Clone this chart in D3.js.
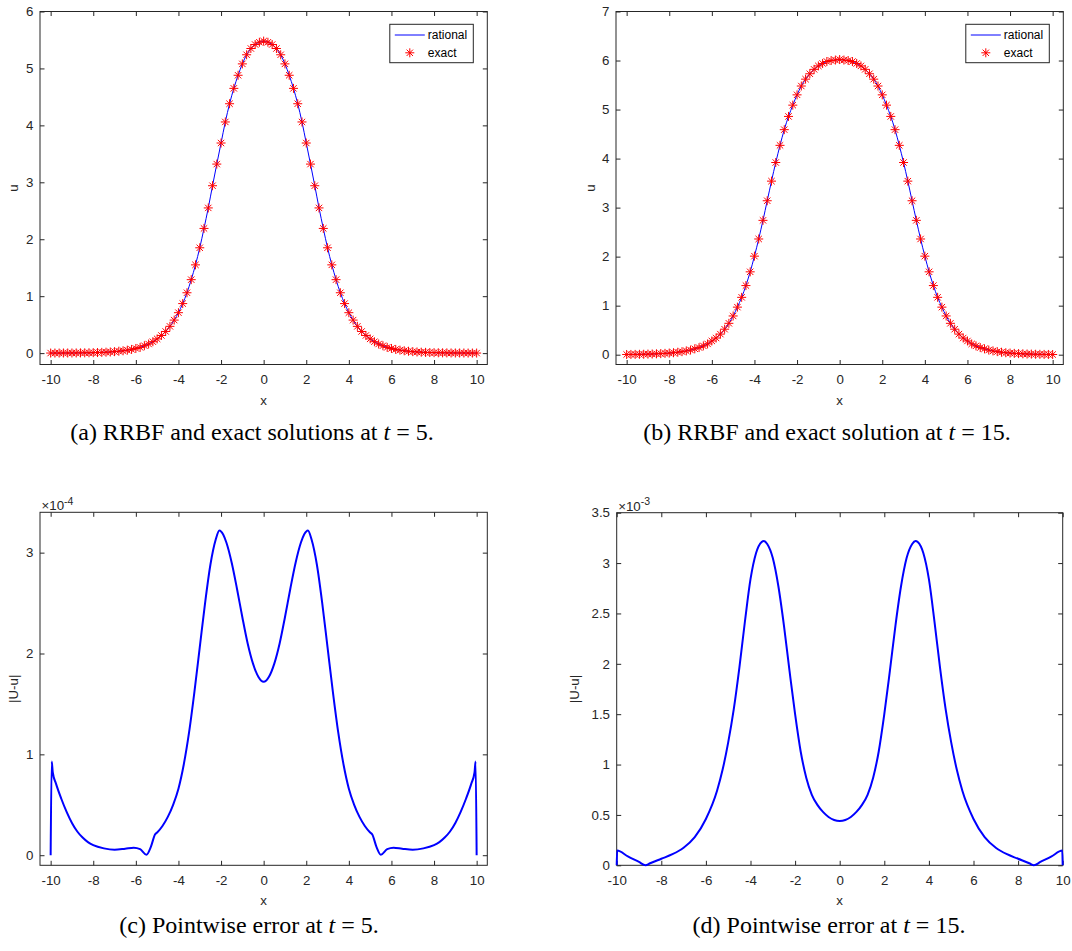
<!DOCTYPE html>
<html><head><meta charset="utf-8">
<script src="https://cdn.jsdelivr.net/npm/d3@7"></script>
<style>body{margin:0;background:#fff}</style>
</head><body><svg id="c" width="1072" height="951"></svg>
<script>
// ---------------- data ----------------
const xGrid = [-10,-9.8,-9.6,-9.4,-9.2,-9,-8.8,-8.6,-8.4,-8.2,-8,-7.8,-7.6,-7.4,-7.2,-7,-6.8,-6.6,-6.4,-6.2,
  -6,-5.8,-5.6,-5.4,-5.2,-5,-4.8,-4.6,-4.4,-4.2,-4,-3.8,-3.6,-3.4,-3.2,-3,-2.8,-2.6,-2.4,-2.2,
  -2,-1.8,-1.6,-1.4,-1.2,-1,-0.8,-0.6,-0.4,-0.2,0,0.2,0.4,0.6,0.8,1,1.2,1.4,1.6,1.8,
  2,2.2,2.4,2.6,2.8,3,3.2,3.4,3.6,3.8,4,4.2,4.4,4.6,4.8,5,5.2,5.4,5.6,5.8,
  6,6.2,6.4,6.6,6.8,7,7.2,7.4,7.6,7.8,8,8.2,8.4,8.6,8.8,9,9.2,9.4,9.6,9.8,10];

const uExactT5 = [0.001,0.001,0.001,0.002,0.002,0.002,0.003,0.004,0.005,0.006,0.008,0.010,0.013,0.016,0.020,0.026,0.033,0.041,0.052,0.065,
  0.082,0.10,0.13,0.16,0.20,0.25,0.31,0.38,0.47,0.58,0.71,0.87,1.06,1.29,1.55,1.85,2.19,2.55,2.94,3.32,
  3.69,4.06,4.38,4.65,4.88,5.08,5.24,5.35,5.42,5.46,5.48,5.46,5.42,5.35,5.24,5.08,4.88,4.65,4.38,4.06,
  3.69,3.32,2.94,2.55,2.19,1.85,1.55,1.29,1.06,0.87,0.71,0.58,0.47,0.38,0.31,0.25,0.20,0.16,0.13,0.10,
  0.082,0.065,0.052,0.041,0.033,0.026,0.020,0.016,0.013,0.010,0.008,0.006,0.005,0.004,0.003,0.002,0.002,0.002,0.001,0.001,0.001];
const uRationalT5 = uExactT5; // indistinguishable from the exact values at plot scale

const uExactT15 = [0.004,0.005,0.006,0.008,0.009,0.012,0.014,0.018,0.022,0.027,0.033,0.040,0.050,0.062,0.077,0.095,0.12,0.145,0.18,0.22,
  0.28,0.34,0.42,0.52,0.64,0.79,0.97,1.17,1.41,1.69,2.01,2.36,2.74,3.14,3.54,3.92,4.27,4.59,4.86,5.09,
  5.30,5.48,5.62,5.73,5.82,5.89,5.94,5.98,6.00,6.01,6.02,6.01,6.00,5.98,5.94,5.89,5.82,5.73,5.62,5.48,
  5.30,5.09,4.86,4.59,4.27,3.92,3.54,3.14,2.74,2.36,2.01,1.69,1.41,1.17,0.97,0.79,0.64,0.52,0.42,0.34,
  0.28,0.22,0.18,0.145,0.12,0.095,0.077,0.062,0.050,0.040,0.033,0.027,0.022,0.018,0.014,0.012,0.009,0.008,0.006,0.005,0.004];
const uRationalT15 = uExactT15;

// pointwise error at t = 5, in units of 1e-4
const xErrT5 = [-10,-9.95,-9.9,-9.75,-9.5,-9.25,-9,-8.75,-8.5,-8.25,-8,-7.5,-7,-6.5,-6.1,-5.8,-5.5,-5.3,-5.1,-5,
  -4.75,-4.5,-4.25,-4,-3.75,-3.5,-3.25,-3,-2.75,-2.5,-2.25,-2.08,-1.9,-1.75,-1.5,-1.25,-1,-0.75,-0.5,-0.25,0,
  0.25,0.5,0.75,1,1.25,1.5,1.75,1.9,2.08,2.25,2.5,2.75,3,3.25,3.5,3.75,4,4.25,4.5,4.75,
  5,5.1,5.3,5.5,5.8,6.1,6.5,7,7.5,8,8.25,8.5,8.75,9,9.25,9.5,9.75,9.9,9.95,10];
const errT5 = [0,0.93,0.82,0.71,0.56,0.43,0.32,0.235,0.175,0.13,0.10,0.068,0.055,0.065,0.075,0.06,0.005,0.08,0.205,0.225,
  0.29,0.38,0.50,0.66,0.90,1.22,1.62,2.06,2.50,2.88,3.13,3.22,3.18,3.10,2.90,2.64,2.36,2.10,1.90,1.77,1.72,
  1.77,1.90,2.10,2.36,2.64,2.90,3.10,3.18,3.22,3.13,2.88,2.50,2.06,1.62,1.22,0.90,0.66,0.50,0.38,0.29,
  0.225,0.205,0.08,0.005,0.06,0.075,0.065,0.055,0.068,0.10,0.13,0.175,0.235,0.32,0.43,0.56,0.71,0.82,0.93,0];

// pointwise error at t = 15, in units of 1e-3
const xErrT15 = [-10,-9.98,-9.5,-9,-8.71,-8.5,-8,-7.5,-7,-6.5,-6,-5.5,-5.25,-5,-4.75,-4.5,-4.25,-4,-3.75,-3.5,
  -3.4,-3.25,-3,-2.75,-2.5,-2.25,-2,-1.75,-1.5,-1.25,-1,-0.75,-0.5,-0.25,0,
  0.25,0.5,0.75,1,1.25,1.5,1.75,2,2.25,2.5,2.75,3,3.25,3.4,3.5,3.75,4,4.25,4.5,4.75,5,5.25,5.5,
  6,6.5,7,7.5,8,8.5,8.71,9,9.5,9.98,10];
const errT15 = [0,0.146,0.089,0.033,0,0.02,0.065,0.11,0.175,0.28,0.46,0.74,0.95,1.22,1.55,1.96,2.42,2.84,3.10,3.21,
  3.22,3.19,3.05,2.77,2.38,1.93,1.50,1.13,0.87,0.70,0.60,0.53,0.48,0.45,0.44,
  0.45,0.48,0.53,0.60,0.70,0.87,1.13,1.50,1.93,2.38,2.77,3.05,3.19,3.22,3.21,3.10,2.84,2.42,1.96,1.55,1.22,0.95,0.74,
  0.46,0.28,0.175,0.11,0.065,0.02,0,0.033,0.089,0.146,0];

const xTicks = [-10,-8,-6,-4,-2,0,2,4,6,8,10];
const yTicksA = [0,1,2,3,4,5,6];
const yTicksB = [0,1,2,3,4,5,6,7];
const yTicksC = [0,1,2,3];
const yTicksD = [0,0.5,1,1.5,2,2.5,3,3.5];
const legendLabels = ["rational","exact"];
const captions = [
  ["(a) RRBF and exact solutions at ", "t", " = 5."],
  ["(b) RRBF and exact solution at ", "t", " = 15."],
  ["(c) Pointwise error at ", "t", " = 5."],
  ["(d) Pointwise error at ", "t", " = 15."]
];

// ---------------- drawing ----------------
const svg = d3.select('#c');
svg.append('rect').attr('width',1072).attr('height',951).attr('fill','#fff');
const AX = '#262626';
const SANS = '"Liberation Sans", Arial, Helvetica, sans-serif';
const SERIF = '"Liberation Serif", "Times New Roman", serif';
const FS = 13.3;
const TL = 4.5;
const fmt = d => String(+(+d).toFixed(6));

function starPath(r){
  const d = r*0.7071;
  return `M${-r},0H${r}M0,${-r}V${r}M${-d},${-d}L${d},${d}M${-d},${d}L${d},${-d}`;
}

function panel(cfg){
  const g = svg.append('g');
  const x = d3.scaleLinear().domain(cfg.xd).range([cfg.l, cfg.r]);
  const y = d3.scaleLinear().domain(cfg.yd).range([cfg.b, cfg.t]);

  const style = sel => {
    sel.select('.domain').remove();
    sel.selectAll('line').attr('stroke', AX).attr('stroke-width', 1);
    sel.selectAll('text').attr('fill', AX).attr('font-family', SANS).attr('font-size', FS);
  };
  g.append('g').attr('transform',`translate(0,${cfg.b})`)
    .call(d3.axisBottom(x).tickValues(xTicks).tickSize(-TL).tickSizeOuter(0).tickPadding(10).tickFormat(fmt)).call(style);
  g.append('g').attr('transform',`translate(0,${cfg.t})`)
    .call(d3.axisTop(x).tickValues(xTicks).tickSize(-TL).tickSizeOuter(0).tickFormat('')).call(style);
  g.append('g').attr('transform',`translate(${cfg.l},0)`)
    .call(d3.axisLeft(y).tickValues(cfg.yt).tickSize(-TL).tickSizeOuter(0).tickPadding(6.7).tickFormat(fmt)).call(style);
  g.append('g').attr('transform',`translate(${cfg.r},0)`)
    .call(d3.axisRight(y).tickValues(cfg.yt).tickSize(-TL).tickSizeOuter(0).tickFormat('')).call(style);

  g.append('rect').attr('x',cfg.l).attr('y',cfg.t).attr('width',cfg.r-cfg.l).attr('height',cfg.b-cfg.t)
    .attr('fill','none').attr('stroke',AX).attr('stroke-width',1);

  const pts = cfg.xs.map((v,i)=>[v, cfg.line[i]]);
  g.append('path').datum(pts)
    .attr('d', d3.line().x(d=>x(d[0])).y(d=>y(d[1])).curve(d3.curveMonotoneX))
    .attr('fill','none').attr('stroke','#0000ff').attr('stroke-width',cfg.lw).attr('stroke-linejoin','round');

  if (cfg.stars){
    g.append('g').selectAll('path').data(cfg.xs.map((v,i)=>[v,cfg.stars[i]])).join('path')
      .attr('transform', d=>`translate(${x(d[0])},${y(d[1])})`)
      .attr('d', starPath(4.5)).attr('fill','none').attr('stroke','#ff0000').attr('stroke-width',1);
    // legend
    const lw = 83.5, lh = 38.4;
    const lx = cfg.r - 14 - lw, ly = 24.3;
    const lg = g.append('g');
    lg.append('rect').attr('x',lx).attr('y',ly).attr('width',lw).attr('height',lh)
      .attr('fill','#fff').attr('stroke',AX).attr('stroke-width',1);
    lg.append('line').attr('x1',lx+5).attr('x2',lx+35).attr('y1',ly+10.7).attr('y2',ly+10.7)
      .attr('stroke','#0000ff').attr('stroke-width',1);
    lg.append('path').attr('transform',`translate(${lx+20},${ly+28.5})`).attr('d',starPath(4.5))
      .attr('fill','none').attr('stroke','#ff0000').attr('stroke-width',1);
    lg.selectAll('text').data(legendLabels).join('text')
      .attr('x', lx+38).attr('y',(d,i)=>ly+15+i*18)
      .attr('font-family',SANS).attr('font-size',12).attr('fill','#000').text(d=>d);
  }

  // axis labels
  g.append('text').attr('x',(cfg.l+cfg.r)/2).attr('y',cfg.b+40).attr('text-anchor','middle')
    .attr('font-family',SANS).attr('font-size',FS).attr('fill',AX).text('x');
  g.append('text').attr('transform',`translate(${cfg.ylx},${(cfg.t+cfg.b)/2}) rotate(-90)`)
    .attr('text-anchor','middle').attr('font-family',SANS).attr('font-size',FS).attr('fill',AX).text(cfg.ylabel);

  if (cfg.exp){
    const t = g.append('text').attr('x',cfg.l+1.5).attr('y',cfg.t-2).attr('font-family',SANS)
      .attr('font-size',FS).attr('fill',AX);
    t.append('tspan').text('\u00d710');
    t.append('tspan').attr('font-size',10.5).attr('dy',-5.5).text(cfg.exp);
  }

  // caption
  const c = svg.append('text').attr('x',cfg.capx).attr('y',cfg.capy).attr('text-anchor','middle')
    .attr('font-family',SERIF).attr('font-size',24).attr('fill','#000');
  c.append('tspan').text(cfg.cap[0]);
  c.append('tspan').attr('font-style','italic').text(cfg.cap[1]);
  c.append('tspan').text(cfg.cap[2]);
}

panel({l:40, r:487.3, t:11.5, b:364.5, xd:[-10.5,10.5], yd:[-0.2,6], yt:yTicksA,
  xs:xGrid, line:uRationalT5, stars:uExactT5, lw:1, ylabel:'u', ylx:18, cap:captions[0], capx:252, capy:440});
panel({l:616, r:1063.3, t:11.5, b:364.5, xd:[-10.5,10.5], yd:[-0.2,7], yt:yTicksB,
  xs:xGrid, line:uRationalT15, stars:uExactT15, lw:1, ylabel:'u', ylx:595, cap:captions[1], capx:827, capy:440});
panel({l:40, r:487.3, t:512.3, b:865.3, xd:[-10.5,10.5], yd:[-0.1,3.4], yt:yTicksC,
  xs:xErrT5, line:errT5, lw:2, ylabel:'|U-u|', ylx:18, exp:'-4', cap:captions[2], capx:249, capy:933});
panel({l:616.7, r:1062.7, t:512.7, b:865.3, xd:[-10,10], yd:[0,3.5], yt:yTicksD,
  xs:xErrT15, line:errT15, lw:2, ylabel:'|U-u|', ylx:579, exp:'-3', cap:captions[3], capx:829, capy:933});
</script>
</body></html>
